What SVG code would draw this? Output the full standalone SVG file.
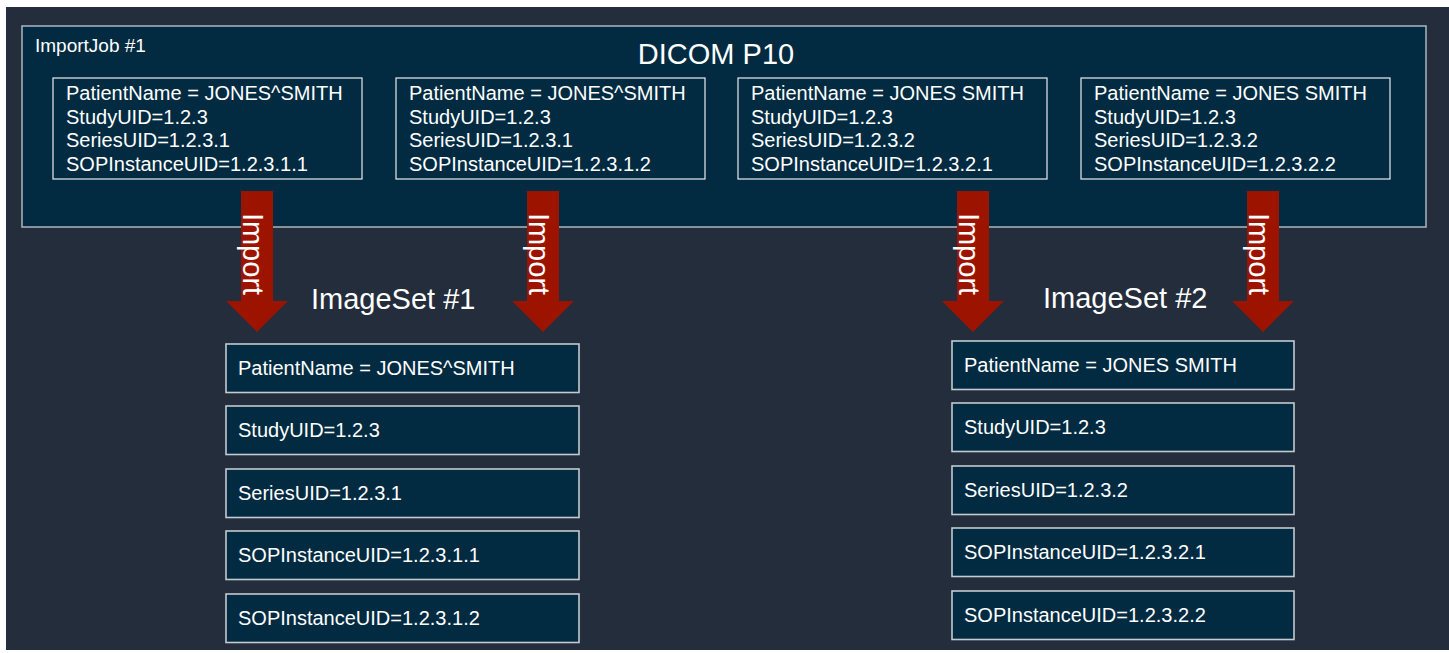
<svg xmlns="http://www.w3.org/2000/svg" width="1449" height="653" viewBox="0 0 1449 653">
<style>
text{font-family:"Liberation Sans",Arial,sans-serif;fill:#ffffff;}
.bg{fill:#232d3c;}
.job{fill:#022b42;stroke:#aeb6bd;stroke-width:1.5;}
.src{fill:#022b42;stroke:#e8ecef;stroke-width:1.2;}
.row{fill:#022b42;stroke:#c4cad0;stroke-width:1.6;}
.t20{font-size:20px;}
.t29{font-size:29px;}
.arrow{fill:#9c1300;}
.lbl{font-size:29px;text-anchor:middle;}
</style>
<rect x="0" y="0" width="1449" height="653" fill="#ffffff"/>
<rect class="bg" x="6" y="7" width="1443" height="643"/>

<g id="importjob">
<rect class="job" x="22" y="26" width="1404" height="201"/>
<text x="35" y="52" font-size="19">ImportJob #1</text>
<text x="716" y="64" class="t29" text-anchor="middle">DICOM P10</text>
</g>

<g id="src1">
<rect class="src" x="53" y="78" width="309" height="101"/>
<text class="t20" x="66" y="100">PatientName = JONES^SMITH</text>
<text class="t20" x="66" y="123.5">StudyUID=1.2.3</text>
<text class="t20" x="66" y="147">SeriesUID=1.2.3.1</text>
<text class="t20" x="66" y="170.5">SOPInstanceUID=1.2.3.1.1</text>
</g>
<g id="src2">
<rect class="src" x="396" y="78" width="309" height="101"/>
<text class="t20" x="409" y="100">PatientName = JONES^SMITH</text>
<text class="t20" x="409" y="123.5">StudyUID=1.2.3</text>
<text class="t20" x="409" y="147">SeriesUID=1.2.3.1</text>
<text class="t20" x="409" y="170.5">SOPInstanceUID=1.2.3.1.2</text>
</g>
<g id="src3">
<rect class="src" x="738" y="78" width="309" height="101"/>
<text class="t20" x="751" y="100">PatientName = JONES SMITH</text>
<text class="t20" x="751" y="123.5">StudyUID=1.2.3</text>
<text class="t20" x="751" y="147">SeriesUID=1.2.3.2</text>
<text class="t20" x="751" y="170.5">SOPInstanceUID=1.2.3.2.1</text>
</g>
<g id="src4">
<rect class="src" x="1081" y="78" width="309" height="101"/>
<text class="t20" x="1094" y="100">PatientName = JONES SMITH</text>
<text class="t20" x="1094" y="123.5">StudyUID=1.2.3</text>
<text class="t20" x="1094" y="147">SeriesUID=1.2.3.2</text>
<text class="t20" x="1094" y="170.5">SOPInstanceUID=1.2.3.2.2</text>
</g>

<g id="connectors">
<g id="import1">
<path class="arrow" d="M241,191 H273 V301 H288 L257,332 L226,301 H241 Z"/>
<text class="lbl" transform="translate(243,254) rotate(90)">Import</text>
</g>
<g id="import2">
<path class="arrow" d="M527,191 H559 V301 H574 L543,332 L512,301 H527 Z"/>
<text class="lbl" transform="translate(529,254) rotate(90)">Import</text>
</g>
<g id="import3">
<path class="arrow" d="M957,191 H989 V301 H1004 L973,332 L942,301 H957 Z"/>
<text class="lbl" transform="translate(959,254) rotate(90)">Import</text>
</g>
<g id="import4">
<path class="arrow" d="M1247,191 H1279 V301 H1294 L1263,332 L1232,301 H1247 Z"/>
<text class="lbl" transform="translate(1249,254) rotate(90)">Import</text>
</g>
</g>

<g id="imageset1">
<text class="t29" x="311" y="309">ImageSet #1</text>
<rect class="row" x="226" y="344" width="353" height="48.5"/>
<text class="t20" x="238" y="375">PatientName = JONES^SMITH</text>
<rect class="row" x="226" y="406" width="353" height="48.5"/>
<text class="t20" x="238" y="437">StudyUID=1.2.3</text>
<rect class="row" x="226" y="469" width="353" height="48.5"/>
<text class="t20" x="238" y="500">SeriesUID=1.2.3.1</text>
<rect class="row" x="226" y="531" width="353" height="48.5"/>
<text class="t20" x="238" y="562">SOPInstanceUID=1.2.3.1.1</text>
<rect class="row" x="226" y="594" width="353" height="48.5"/>
<text class="t20" x="238" y="625">SOPInstanceUID=1.2.3.1.2</text>
</g>

<g id="imageset2">
<text class="t29" x="1043" y="308">ImageSet #2</text>
<rect class="row" x="952" y="341" width="342" height="48.5"/>
<text class="t20" x="964" y="372">PatientName = JONES SMITH</text>
<rect class="row" x="952" y="403" width="342" height="48.5"/>
<text class="t20" x="964" y="434">StudyUID=1.2.3</text>
<rect class="row" x="952" y="466" width="342" height="48.5"/>
<text class="t20" x="964" y="497">SeriesUID=1.2.3.2</text>
<rect class="row" x="952" y="528" width="342" height="48.5"/>
<text class="t20" x="964" y="559">SOPInstanceUID=1.2.3.2.1</text>
<rect class="row" x="952" y="591" width="342" height="48.5"/>
<text class="t20" x="964" y="622">SOPInstanceUID=1.2.3.2.2</text>
</g>
</svg>
